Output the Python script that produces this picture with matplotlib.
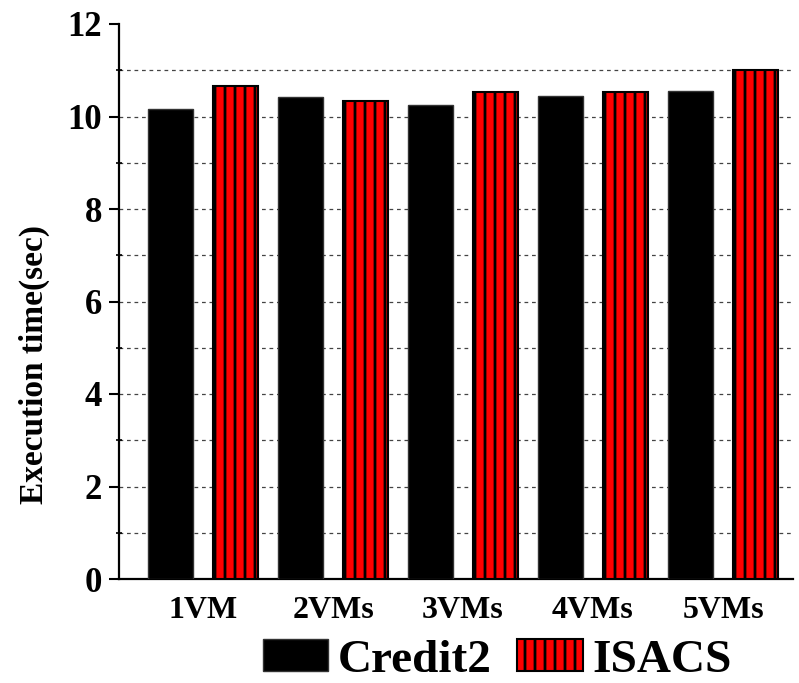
import matplotlib
matplotlib.use("Agg")
import matplotlib.pyplot as plt
import numpy as np
from matplotlib.ticker import MultipleLocator
from matplotlib.backend_bases import GraphicsContextBase

categories = ["1VM", "2VMs", "3VMs", "4VMs", "5VMs"]
credit2 = [10.16, 10.43, 10.24, 10.44, 10.56]
isacs = [10.66, 10.34, 10.54, 10.54, 11.0]
series_names = ["Credit2", "ISACS"]

# slightly sparser vertical hatch than the default '||'
_orig_hatch_path = GraphicsContextBase.get_hatch_path
def _hatch_path(self, density=6.0):
    return _orig_hatch_path(self, density=10.0)
GraphicsContextBase.get_hatch_path = _hatch_path

plt.rcParams['font.family'] = ['Liberation Serif', 'DejaVu Serif']
plt.rcParams['font.weight'] = 'bold'
plt.rcParams['hatch.linewidth'] = 2.0
plt.rcParams['hatch.color'] = 'black'

fig = plt.figure(figsize=(7.99, 6.83), dpi=100)
W, H = 799, 683
ax = fig.add_axes([119 / W, (H - 579) / H, (793 - 119) / W, (579 - 24) / H])

x = np.arange(len(categories))
bw = 0.346
ax.bar(x - 0.25, credit2, width=bw, color='black', edgecolor='#333333', linewidth=1.0,
       label=series_names[0], zorder=3)
ax.bar(x + 0.25, isacs, width=bw, color='#ff0000', edgecolor='black', linewidth=1.5,
       hatch='|', label=series_names[1], zorder=3)

ax.set_xlim((119 - 203) / 130, (793 - 203) / 130)
ax.set_ylim(0, 12)

ax.yaxis.set_major_locator(MultipleLocator(2))
ax.yaxis.set_minor_locator(MultipleLocator(1))
for v in range(1, 12):
    ax.axhline(v, color='#444444', linestyle=(0, (3, 3)), linewidth=0.9, zorder=1)

ax.set_xticks(x)
ax.set_xticklabels(categories, fontsize=23, fontweight='bold')
ax.tick_params(axis='x', length=0, pad=12)
ax.tick_params(axis='y', which='major', direction='out', length=7, width=1.5,
               labelsize=25, pad=5)
ax.tick_params(axis='y', which='minor', direction='inout', length=5, width=1.2)
for lab in ax.get_yticklabels():
    lab.set_fontweight('bold')

for s in ['top', 'right']:
    ax.spines[s].set_visible(False)
ax.spines['left'].set_linewidth(1.6)
ax.spines['bottom'].set_linewidth(1.6)

ax.set_ylabel("Execution time(sec)", fontsize=24, fontweight='bold')
ax.yaxis.set_label_coords(-0.102, 0.386)

leg = fig.legend(loc='lower left', bbox_to_anchor=(263 / W, 0.002), ncol=2,
                 frameon=False, prop={'size': 34, 'weight': 'bold'},
                 handlelength=1.38, handleheight=0.68, handletextpad=0.2,
                 columnspacing=0.55, borderpad=0, borderaxespad=0)

fig.savefig("out.png", dpi=100)
